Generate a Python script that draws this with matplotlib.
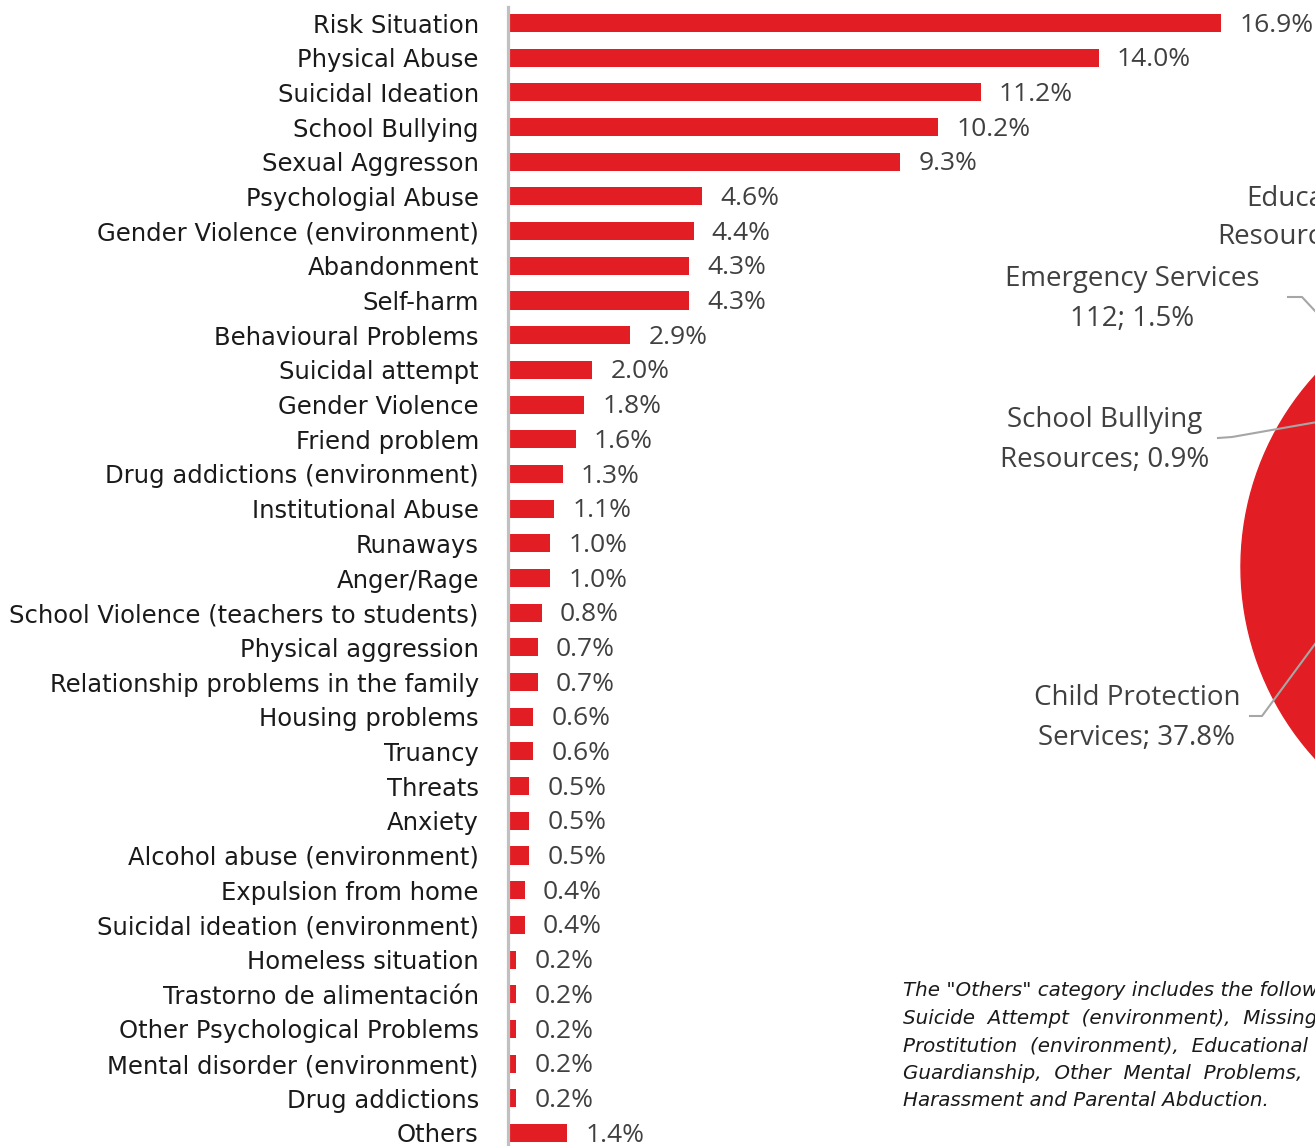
import numpy as np
import matplotlib.pyplot as plt
from matplotlib.lines import Line2D

# ---------------------------------------------------------
# DATA
# ---------------------------------------------------------
categories = [
    "Risk Situation", "Physical Abuse", "Suicidal Ideation", "School Bullying",
    "Sexual Aggresson", "Psychologial Abuse", "Gender Violence (environment)",
    "Abandonment", "Self-harm", "Behavioural Problems", "Suicidal attempt",
    "Gender Violence", "Friend problem", "Drug addictions (environment)",
    "Institutional Abuse", "Runaways", "Anger/Rage",
    "School Violence (teachers to students)", "Physical aggression",
    "Relationship problems in the family", "Housing problems", "Truancy",
    "Threats", "Anxiety", "Alcohol abuse (environment)", "Expulsion from home",
    "Suicidal ideation (environment)", "Homeless situation",
    "Trastorno de alimentación", "Other Psychological Problems",
    "Mental disorder (environment)", "Drug addictions", "Others",
]
values = [16.9, 14.0, 11.2, 10.2, 9.3, 4.6, 4.4, 4.3, 4.3, 2.9, 2.0, 1.8, 1.6,
          1.3, 1.1, 1.0, 1.0, 0.8, 0.7, 0.7, 0.6, 0.6, 0.5, 0.5, 0.5, 0.4, 0.4,
          0.2, 0.2, 0.2, 0.2, 0.2, 1.4]

# pie (only its left part is visible)
pie_labels = ["Child Protection\nServices; 37.8%", "School Bullying\nResources; 0.9%",
              "Emergency Services\n112; 1.5%", ""]
pie_values = [37.8, 0.9, 1.5, 59.8]

note_lines = [
    'The "Others" category includes the following',
    'Suicide  Attempt  (environment),  Missing',
    'Prostitution  (environment),  Educational',
    'Guardianship,  Other  Mental  Problems,',
    'Harassment and Parental Abduction.',
]

RED = "#e21d23"
W, H = 1315, 1146

fig = plt.figure(figsize=(W / 100, H / 100), dpi=100)


def fx(x):
    return x / W


def fy(y):
    return 1 - y / H


# ---------------------------------------------------------
# BAR CHART
# ---------------------------------------------------------
px_per_unit = 42.2
x_max = 18
step = (1133 - 23) / 32
ax = fig.add_axes([fx(508), 0, x_max * px_per_unit / W, (H - 7) / H])
ax.set_facecolor("none")

y = np.arange(len(categories))
ax.barh(y, values, height=0.52, color=RED)
ax.set_xlim(0, x_max)
ax.set_ylim((H - 23) / step, -(23 - 7) / step)

for i, v in enumerate(values):
    ax.text(v + 0.43, i + 0.06, f"{v:.1f}%", va="center", ha="left",
            fontsize=19, family="Open Sans", color="#404040")

ax.set_yticks(y)
ax.set_yticklabels(categories, fontsize=17.5, family="DejaVu Sans", color="#1a1a1a")
ax.tick_params(axis="y", length=0, pad=21)
ax.set_xticks([])
for s in ["top", "right", "bottom"]:
    ax.spines[s].set_visible(False)
ax.spines["left"].set_color("#c0c0c0")
ax.spines["left"].set_linewidth(2.3)

# ---------------------------------------------------------
# PIE (cut by the right edge)
# ---------------------------------------------------------
cx, cy, r = 1525, 567, 284
pax = fig.add_axes([fx(cx - r), fy(cy + r), 2 * r / W, 2 * r / H])
pax.pie(pie_values, colors=[RED] * len(pie_values), startangle=132,
        wedgeprops=dict(edgecolor=RED, linewidth=1))
pax.set_xlim(-1, 1)
pax.set_ylim(-1, 1)
pax.set_aspect("equal")
pax.axis("off")

label_pos = [(1137, 718), (1105, 440), (1132, 299)]
for (lx, ly), lab in zip(label_pos, pie_labels[:3]):
    fig.text(fx(lx), fy(ly), lab, ha="center", va="center", fontsize=20,
             family="Open Sans", color="#404040", linespacing=1.6)

fig.text(fx(1246), fy(199), "Educational", ha="left", va="center", fontsize=20,
         family="Open Sans", color="#404040")
fig.text(fx(1217), fy(237), "Resources", ha="left", va="center", fontsize=20,
         family="Open Sans", color="#404040")

leaders = [
    ([1250, 1262, 1340], [716, 716, 610]),
    ([1218, 1232, 1340], [438, 437, 418]),
    ([1288, 1302, 1330], [297, 297, 327]),
]
for xs, ys in leaders:
    fig.add_artist(Line2D([fx(v) for v in xs], [fy(v) for v in ys],
                          color="#a6a6a6", linewidth=1.5, zorder=5))

# ---------------------------------------------------------
# NOTE
# ---------------------------------------------------------
for k, line in enumerate(note_lines):
    fig.text(fx(903), fy(991 + 27.5 * k), line, ha="left", va="center",
             fontsize=14.3, family="DejaVu Sans", style="italic", color="#1a1a1a")

fig.savefig("out.png", dpi=100)
